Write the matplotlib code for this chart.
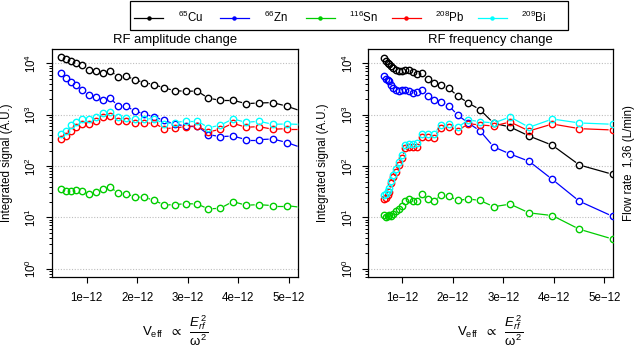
import numpy as np
import matplotlib
matplotlib.use('Agg')
import matplotlib.pyplot as plt
from matplotlib.collections import LineCollection
from matplotlib.ticker import FixedLocator, NullFormatter

plt.rcParams['font.family'] = ['Liberation Sans', 'DejaVu Sans']
plt.rcParams['mathtext.fontset'] = 'custom'
plt.rcParams['mathtext.rm'] = 'Liberation Sans'
plt.rcParams['mathtext.it'] = 'Liberation Sans:italic'
plt.rcParams['mathtext.bf'] = 'Liberation Sans:bold'
plt.rcParams['mathtext.fallback'] = 'stixsans'

# isotopes
masses = ['65', '66', '116', '208', '209']
elements = ['Cu', 'Zn', 'Sn', 'Pb', 'Bi']
colors = ['black', '#0000FF', '#00CD00', '#FF0000', '#00FFFF']

# RF amplitude change (x in units of 1e-12)
x_amp = [0.491, 0.590, 0.689, 0.794, 0.913, 1.040, 1.178, 1.317, 1.461, 1.614,
         1.778, 1.956, 2.141, 2.333, 2.531, 2.743, 2.960, 3.184, 3.408, 3.640,
         3.891, 4.154, 4.406, 4.683, 4.960, 5.250]
cu_amp = [13500, 12300, 11300, 10300, 9140, 7410, 7100, 6580, 7200, 5510, 5680, 4740, 4210,
          3850, 3310, 2940, 2850, 2890, 2090, 1910, 1910, 1640, 1690, 1720, 1460, 1170]
zn_amp = [6380, 5260, 4330, 3730, 3070, 2380, 2180, 1940, 2150, 1480, 1460, 1180, 1030,
          903, 778, 650, 604, 604, 410, 374, 385, 327, 327, 337, 287, 228]
sn_amp = [35.9, 32.4, 33.3, 34.9, 32.4, 28.7, 30.9, 35.9, 39.9, 29.6, 29.1, 25.1, 24.7,
          21.6, 17.5, 17.8, 18.6, 18.3, 14.7, 15.1, 20.4, 17.3, 17.8, 17.0, 17.0, 15.7]
pb_amp = [342, 385, 490, 569, 670, 670, 755, 903, 930, 767, 767, 681, 691,
          681, 536, 552, 586, 604, 461, 520, 681, 569, 586, 520, 536, 536]
bi_amp = [429, 490, 622, 722, 838, 826, 917, 1096, 1110, 903, 864, 814, 826,
          838, 660, 701, 755, 755, 560, 622, 826, 711, 745, 650, 660, 645]

# RF frequency change
x_freq = [0.638, 0.671, 0.711, 0.743, 0.782, 0.822, 0.875, 0.929, 1.000, 1.053,
          1.127, 1.218, 1.297, 1.396, 1.503, 1.628, 1.766, 1.919, 2.097, 2.307,
          2.539, 2.810, 3.133, 3.509, 3.970, 4.505, 5.166]
cu_freq = [12500, 10900, 10300, 9700, 8980, 8100, 7410, 7000, 7000, 7500, 7300, 6680, 6110,
           6560, 4950, 4200, 3840, 3270, 2310, 1690, 1250, 680, 577, 385, 254, 105, 69]
zn_freq = [5660, 4890, 4670, 4530, 3730, 3310, 3030, 2890, 3070, 3070, 2950, 2680, 2730,
           2990, 2310, 1930, 1790, 1500, 980, 690, 482, 236, 172, 124, 55, 20.7, 10.5]
sn_freq = [11.4, 10.1, 10.7, 11.4, 10.7, 11.7, 13.1, 14.3, 16.4, 21.0, 23.0, 21.0, 20.5,
           28.4, 23.4, 20.7, 27.5, 26.3, 21.4, 23.0, 21.4, 16.2, 18.2, 12.3, 10.9, 5.9, 3.8]
pb_freq = [22.9, 24.0, 27.4, 31.4, 46.2, 60.5, 77.8, 105, 142, 225, 232, 238, 238,
           368, 373, 357, 551, 577, 489, 668, 631, 603, 721, 482, 659, 535, 504]
bi_freq = [26.8, 28.0, 32.1, 37.5, 50.2, 67.1, 87.8, 120, 164, 257, 266, 275, 285,
           427, 427, 421, 638, 668, 569, 789, 731, 690, 902, 569, 824, 690, 651]

xticks = [1e-12, 2e-12, 3e-12, 4e-12, 5e-12]
xticklabels = ['1e\u221212', '2e\u221212', '3e\u221212', '4e\u221212', '5e\u221212']
decades = [1, 10, 100, 1000, 10000]
titles = ['RF amplitude change', 'RF frequency change']

W, H = 637, 350
fig = plt.figure(figsize=(W / 100, H / 100), dpi=100)


def px_axes(x0, x1, ytop, ybot):
    return fig.add_axes([x0 / W, 1 - ybot / H, (x1 - x0) / W, (ybot - ytop) / H])


def gapped(ax, xs, ys, color, gap=4.2):
    # R type="b": line segments with a gap around each point
    pts = ax.transData.transform(np.column_stack([xs, ys]))
    inv = ax.transData.inverted()
    segs = []
    for p, q in zip(pts[:-1], pts[1:]):
        d = q - p
        L = np.hypot(d[0], d[1])
        if L <= 2 * gap:
            continue
        u = d / L
        segs.append(inv.transform(np.array([p + u * gap, q - u * gap])))
    ax.add_collection(LineCollection(segs, colors=color, linewidths=0.9, zorder=2))


ax1 = px_axes(52, 298, 49, 277)
ax2 = px_axes(368.3, 613, 49, 277)

panels = [
    (ax1, x_amp, [cu_amp, zn_amp, sn_amp, pb_amp, bi_amp], (0.313e-12, 5.18e-12)),
    (ax2, x_freq, [cu_freq, zn_freq, sn_freq, pb_freq, bi_freq], (0.327e-12, 5.17e-12)),
]

for i, (ax, xs, series, xlim) in enumerate(panels):
    ax.set_yscale('log')
    ax.set_xlim(*xlim)
    ax.set_ylim(0.695, 18970)
    for d in decades:
        ax.axhline(d, color='#BEBEBE', linestyle=(0, (1, 1.5)), linewidth=0.8, zorder=1)
    xv = np.array(xs) * 1e-12
    for ys, c in zip(series, colors):
        gapped(ax, xv, ys, c)
        ax.plot(xv, ys, 'o', mfc='none', mec=c, ms=4.6, mew=1.0, zorder=3)

    ax.set_xticks(xticks)
    ax.set_xticklabels(xticklabels, fontsize=8.3)
    ax.set_yticks(decades)
    ax.set_yticklabels([r'$10^{%d}$' % k for k in range(5)], fontsize=8.3,
                       rotation=90, va='center')
    ax.yaxis.set_minor_locator(FixedLocator(
        [m * d for d in [0.1] + decades for m in range(2, 10)]))
    ax.yaxis.set_minor_formatter(NullFormatter())
    ax.tick_params(axis='both', which='major', length=4, width=0.8, direction='out')
    ax.tick_params(axis='x', pad=7)
    ax.tick_params(axis='y', pad=5)
    ax.tick_params(axis='y', which='minor', length=2.2, width=0.7)
    for sp in ax.spines.values():
        sp.set_linewidth(0.9)
        sp.set_color('black')

    ax.set_ylabel('Integrated signal (A.U.)', fontsize=8.3)
    ax.yaxis.set_label_coords(-0.16, 0.5)
    ax.text(0.5, 1 + 6 / 228, titles[i], transform=ax.transAxes, ha='center',
            va='baseline', fontsize=9.4)
    ax.text(0.5, -0.237, r'$\mathrm{V}_{\mathrm{eff}}\ \ \propto\ \ \dfrac{E_{rf}^{\,2}}{\mathrm{\omega}^{2}}$',
            transform=ax.transAxes, ha='center', va='center', fontsize=9.5)

ax2.text(1.066, 0.5, 'Flow rate  1,36 (L/min)', transform=ax2.transAxes, rotation=90,
         ha='center', va='center', fontsize=8.3)

# legend box across the top
lg = fig.add_axes([0, 0, 1, 1], facecolor='none')
lg.set_xlim(0, W)
lg.set_ylim(H, 0)
lg.axis('off')
lg.add_patch(plt.Rectangle((130, 1), 437.5, 29, fill=False, edgecolor='black', linewidth=0.9))
for k, (m, el, c) in enumerate(zip(masses, elements, colors)):
    x0 = 134 + k * 85.9
    lg.plot([x0, x0 + 29], [17.5, 17.5], color=c, linewidth=0.9)
    lg.plot([x0 + 14.5], [17.5], 'o', color=c, ms=2.2)
    lg.text(x0 + 43.6, 21.5, r'$^{%s}$%s' % (m, el), fontsize=8.3, va='baseline', ha='left')

fig.savefig('out.png', dpi=100)
